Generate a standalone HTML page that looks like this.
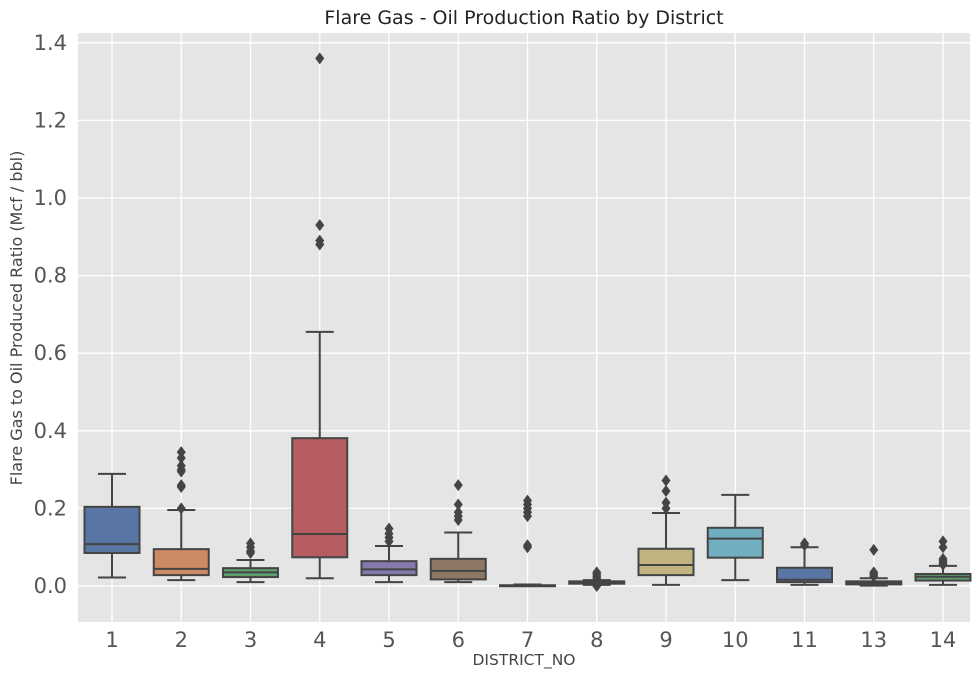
<!DOCTYPE html>
<html><head><meta charset="utf-8"><style>
body{margin:0;background:#fff;font-family:"DejaVu Sans","Liberation Sans",sans-serif;}
</style></head><body>
<svg id="chart" width="980" height="677" xmlns="http://www.w3.org/2000/svg">
<rect x="78" y="33" width="892" height="589" fill="#e5e5e5"/>
<g id="grid"></g><g id="boxes"></g><g id="axes"></g>
<text x="524" y="24" text-anchor="middle" font-size="19" fill="#222">Flare Gas - Oil Production Ratio by District</text>
<text x="524" y="665" text-anchor="middle" font-size="15.5" fill="#444">DISTRICT_NO</text>
<text transform="translate(22,318) rotate(-90)" text-anchor="middle" font-size="16" fill="#444">Flare Gas to Oil Produced Ratio (Mcf / bbl)</text>
</svg>
<script>
const categories=["1","2","3","4","5","6","7","8","9","10","11","13","14"];
const whiskerLow=[0.022,0.015,0.01,0.02,0.01,0.01,0.0,0.003,0.003,0.015,0.003,0.001,0.003];
const q1=[0.085,0.028,0.023,0.074,0.028,0.017,0.0,0.006,0.028,0.073,0.01,0.004,0.014];
const medians=[0.108,0.044,0.035,0.134,0.043,0.039,0.001,0.009,0.054,0.122,0.016,0.008,0.024];
const q3=[0.204,0.095,0.046,0.381,0.064,0.07,0.002,0.012,0.096,0.15,0.047,0.012,0.031];
const whiskerHigh=[0.289,0.196,0.067,0.655,0.103,0.138,0.004,0.015,0.188,0.235,0.1,0.02,0.052];
const outliers=[[],[0.2,0.255,0.26,0.295,0.3,0.31,0.33,0.345],[0.085,0.09,0.1,0.11],[0.88,0.89,0.93,1.36],[0.115,0.125,0.135,0.148],[0.17,0.18,0.19,0.21,0.26],[0.1,0.105,0.18,0.19,0.2,0.21,0.22],[0.0,0.02,0.025,0.03,0.035],[0.2,0.215,0.245,0.272],[],[0.105,0.11],[0.025,0.03,0.035,0.093],[0.055,0.06,0.065,0.07,0.1,0.115]];
const yTicks=[0,0.2,0.4,0.6,0.8,1.0,1.2,1.4];
const colors=["#5975a4","#cc8963","#5f9e6e","#b55d60","#857aab","#8d7866","#d095bf","#8c8c8c","#c1b37f","#71aec0","#5975a4","#cc8963","#5f9e6e"];
const NS="http://www.w3.org/2000/svg";
const y=v=>586-388*v;
const x=i=>112+i*69.25;
function mk(tag,attrs,parent){const e=document.createElementNS(NS,tag);for(const k in attrs)e.setAttribute(k,attrs[k]);parent.appendChild(e);return e;}
const grid=document.getElementById('grid'),axes=document.getElementById('axes'),boxes=document.getElementById('boxes');
yTicks.forEach(t=>{
 const l=mk('line',{x1:78,x2:970,y1:y(t),y2:y(t),stroke:'#fff','stroke-width':1.3},grid);
 
 
 const tx=mk('text',{x:67,y:y(t)+7,'text-anchor':'end','font-size':21,fill:'#555'},axes);
 tx.textContent=t.toFixed(1);
 
 
});
categories.forEach((c,i)=>{
 const l=mk('line',{x1:x(i),x2:x(i),y1:33,y2:622,stroke:'#fff','stroke-width':1.3},grid);
 
 
 const tx=mk('text',{x:x(i),y:647,'text-anchor':'middle','font-size':21,fill:'#555'},axes);
 tx.textContent=c;
 
 
 const g=mk('g',{},boxes);
 
 
 const cx=x(i),hw=27.5,cw=14,st='#444';
 mk('line',{x1:cx,x2:cx,y1:y(whiskerLow[i]),y2:y(q1[i]),stroke:st,'stroke-width':2},g);
 mk('line',{x1:cx,x2:cx,y1:y(q3[i]),y2:y(whiskerHigh[i]),stroke:st,'stroke-width':2},g);
 mk('line',{x1:cx-cw,x2:cx+cw,y1:y(whiskerLow[i]),y2:y(whiskerLow[i]),stroke:st,'stroke-width':2},g);
 mk('line',{x1:cx-cw,x2:cx+cw,y1:y(whiskerHigh[i]),y2:y(whiskerHigh[i]),stroke:st,'stroke-width':2},g);
 mk('rect',{x:cx-hw,y:y(q3[i]),width:hw*2,height:Math.max(1,y(q1[i])-y(q3[i])),fill:colors[i],stroke:st,'stroke-width':2},g);
 mk('line',{x1:cx-hw,x2:cx+hw,y1:y(medians[i]),y2:y(medians[i]),stroke:st,'stroke-width':2},g);
 outliers[i].forEach(v=>{
  const p=mk('path',{d:`M${cx} ${y(v)-6}L${cx+4.5} ${y(v)}L${cx} ${y(v)+6}L${cx-4.5} ${y(v)}Z`,fill:st},g);
  
  
 });
});
</script>
</body></html>
